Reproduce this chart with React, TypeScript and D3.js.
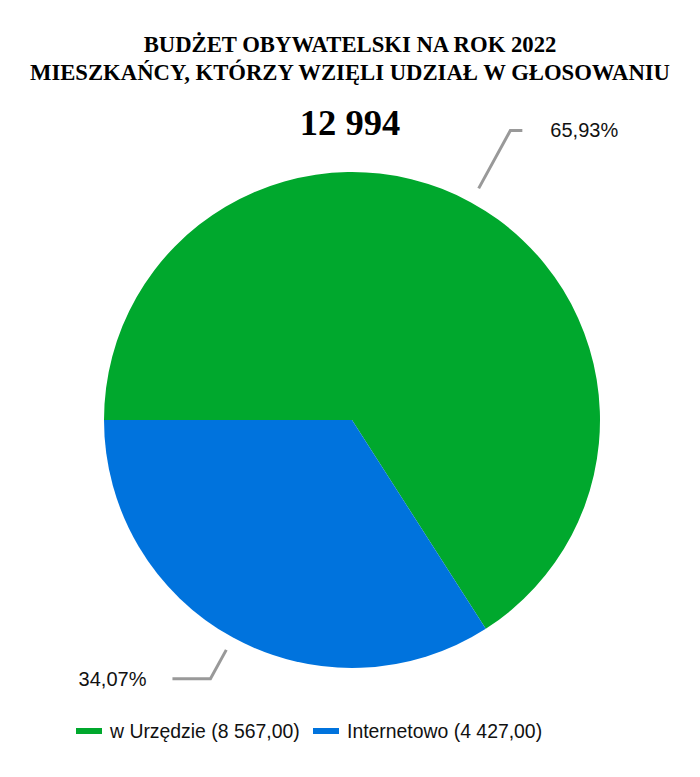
import React, { useEffect } from 'react';
import * as d3 from 'd3';

const categories = ['w Urzędzie', 'Internetowo'];
const values = [8567, 4427];
const percentLabels = ['65,93%', '34,07%'];
const legendLabels = ['w Urzędzie (8 567,00)', 'Internetowo (4 427,00)'];
const colors = ['#00A82D', '#0073DD'];
const titleLines = ['BUDŻET OBYWATELSKI NA ROK 2022', 'MIESZKAŃCY, KTÓRZY WZIĘLI UDZIAŁ W GŁOSOWANIU'];
const totalLabel = '12 994';

const width = 700;
const height = 777;
const cx = 352;
const cy = 420;
const radius = 248;

// leader line geometry per slice: start radius, elbow radius, horizontal run
const leaders = [
  { r0: 264, r1: 330, run: 12, gap: 28 },
  { r0: 262, r1: 295, run: -38, gap: -26 },
];

export default function App() {
  useEffect(() => {
    document.body.style.margin = '0';
  }, []);

  const pie = d3.pie<number>()
    .sort(null)
    .startAngle(-Math.PI / 2)
    .endAngle(Math.PI * 1.5);
  const arcs = pie(values);
  const arc = d3.arc<d3.PieArcDatum<number>>().innerRadius(0).outerRadius(radius);

  const sansFont = '"Liberation Sans", Arial, sans-serif';
  const serifFont = '"Liberation Serif", "Times New Roman", serif';

  return (
    <svg width={width} height={height} style={{ display: 'block', background: '#fff' }}>
      <g fontFamily={serifFont} fontWeight="bold" textAnchor="middle" fill="#000">
        {titleLines.map((t, i) => (
          <text key={i} x={350} y={52 + i * 28} fontSize={22.7}>{t}</text>
        ))}
        <text x={350} y={135} fontSize={36.5}>{totalLabel}</text>
      </g>

      <g transform={`translate(${cx},${cy})`}>
        {arcs.map((a, i) => (
          <path key={categories[i]} d={arc(a) || ''} fill={colors[i]} />
        ))}
        {arcs.map((a, i) => {
          const mid = (a.startAngle + a.endAngle) / 2;
          const L = leaders[i];
          const p0 = [L.r0 * Math.sin(mid), -L.r0 * Math.cos(mid)];
          const p1 = [L.r1 * Math.sin(mid), -L.r1 * Math.cos(mid)];
          const p2 = [p1[0] + L.run, p1[1]];
          const line = d3.line()([p0, p1, p2] as [number, number][]);
          const tx = p2[0] + L.gap;
          return (
            <g key={'lbl' + i}>
              <path d={line || ''} fill="none" stroke="#999" strokeWidth={3} />
              <text
                x={tx}
                y={p1[1]}
                dy="0.35em"
                fontFamily={sansFont}
                fontSize={20}
                fill="#111"
                textAnchor={L.gap > 0 ? 'start' : 'end'}
              >
                {percentLabels[i]}
              </text>
            </g>
          );
        })}
      </g>

      <g fontFamily={sansFont} fontSize={19.4} fill="#111">
        {legendLabels.map((t, i) => {
          const x0 = i === 0 ? 76 : 313;
          return (
            <g key={t} transform={`translate(${x0},731)`}>
              <rect x={0} y={-3} width={26} height={6} fill={colors[i]} />
              <text x={34} y={0} dy="0.35em">{t}</text>
            </g>
          );
        })}
      </g>
    </svg>
  );
}
